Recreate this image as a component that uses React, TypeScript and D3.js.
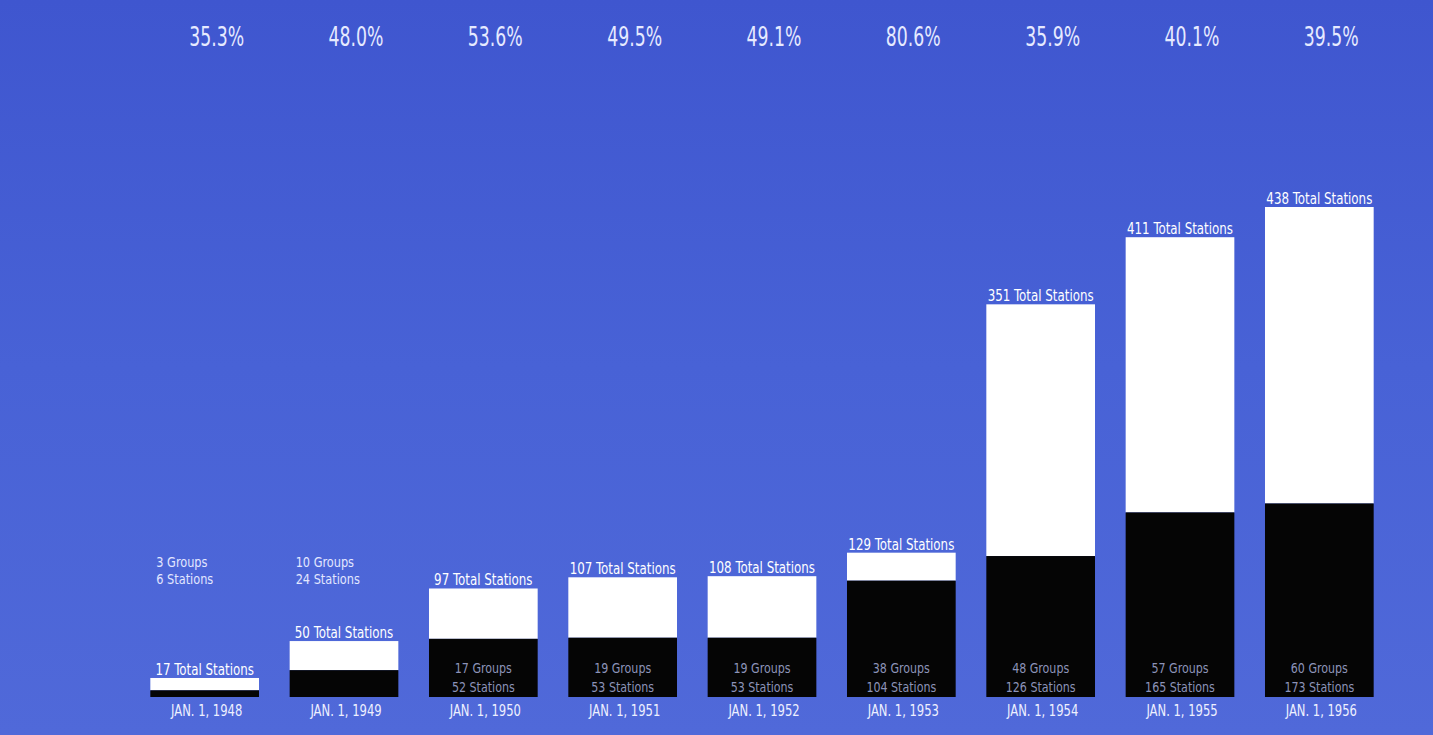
import React from "react";
import * as d3 from "d3";

const years = ["1948", "1949", "1950", "1951", "1952", "1953", "1954", "1955", "1956"];
const totalStations = [17, 50, 97, 107, 108, 129, 351, 411, 438];
const groupStations = [6, 24, 52, 53, 53, 104, 126, 165, 173];
const groups = [3, 10, 17, 19, 19, 38, 48, 57, 60];
const percents = ["35.3%", "48.0%", "53.6%", "49.5%", "49.1%", "80.6%", "35.9%", "40.1%", "39.5%"];

const W = 1433;
const H = 735;
const FONT = "'DejaVu Sans Condensed', 'Liberation Sans Narrow', 'DejaVu Sans', sans-serif";

function T({ x, y, children, size, fill, anchor = "middle", sx = 0.8 }: any) {
  return (
    <g transform={`translate(${x},${y}) scale(${sx},1)`}>
      <text x={0} y={0} textAnchor={anchor} fill={fill} fontSize={size} fontFamily={FONT}>
        {children}
      </text>
    </g>
  );
}

export default function App() {
  const x = d3.scaleBand<string>().domain(years).range([135, 1389]).paddingInner(0.22).paddingOuter(0.11);
  const y = d3.scaleLinear().domain([0, 438]).range([697, 207]);
  const bw = x.bandwidth();

  return (
    <div style={{ position: "fixed", left: 0, top: 0, width: W, height: H }}>
      <svg width={W} height={H} style={{ display: "block" }}>
        <defs>
          <linearGradient id="bg" x1="0" y1="0" x2="0" y2="1">
            <stop offset="0" stopColor="#3f56cf" />
            <stop offset="0.5" stopColor="#4862d6" />
            <stop offset="1" stopColor="#5069d9" />
          </linearGradient>
        </defs>
        <rect x={0} y={0} width={W} height={H} fill="url(#bg)" />
        {years.map((yr, i) => {
          const x0 = x(yr)!;
          const cx = x0 + bw / 2;
          const yTop = y(totalStations[i]);
          const yMid = y(groupStations[i]);
          const base = y(0);
          const outside = i < 2;
          return (
            <g key={yr}>
              <T x={cx + 12} y={46} size={26} fill="#e6eaff" sx={0.74}>
                {percents[i]}
              </T>
              <rect x={x0} y={yTop} width={bw} height={yMid - yTop} fill="#ffffff" />
              <rect x={x0} y={yMid} width={bw} height={base - yMid} fill="#050505" />
              <T x={cx} y={yTop - 3} size={15} fill="#ffffff" sx={0.88}>
                {`${totalStations[i]} Total Stations`}
              </T>
              {outside ? (
                <g>
                  <T x={x0 + 6} y={567} size={14} fill="#e3e7ff" anchor="start" sx={0.9}>
                    {`${groups[i]} Groups`}
                  </T>
                  <T x={x0 + 6} y={584} size={14} fill="#e3e7ff" anchor="start" sx={0.9}>
                    {`${groupStations[i]} Stations`}
                  </T>
                </g>
              ) : (
                <g>
                  <T x={cx} y={673} size={14} fill="#8c93b8" sx={0.88}>
                    {`${groups[i]} Groups`}
                  </T>
                  <T x={cx} y={692} size={14} fill="#8c93b8" sx={0.88}>
                    {`${groupStations[i]} Stations`}
                  </T>
                </g>
              )}
              <T x={cx + 2} y={716} size={15.5} fill="#eef0ff" sx={0.83}>
                {`JAN. 1, ${yr}`}
              </T>
            </g>
          );
        })}
      </svg>
    </div>
  );
}
